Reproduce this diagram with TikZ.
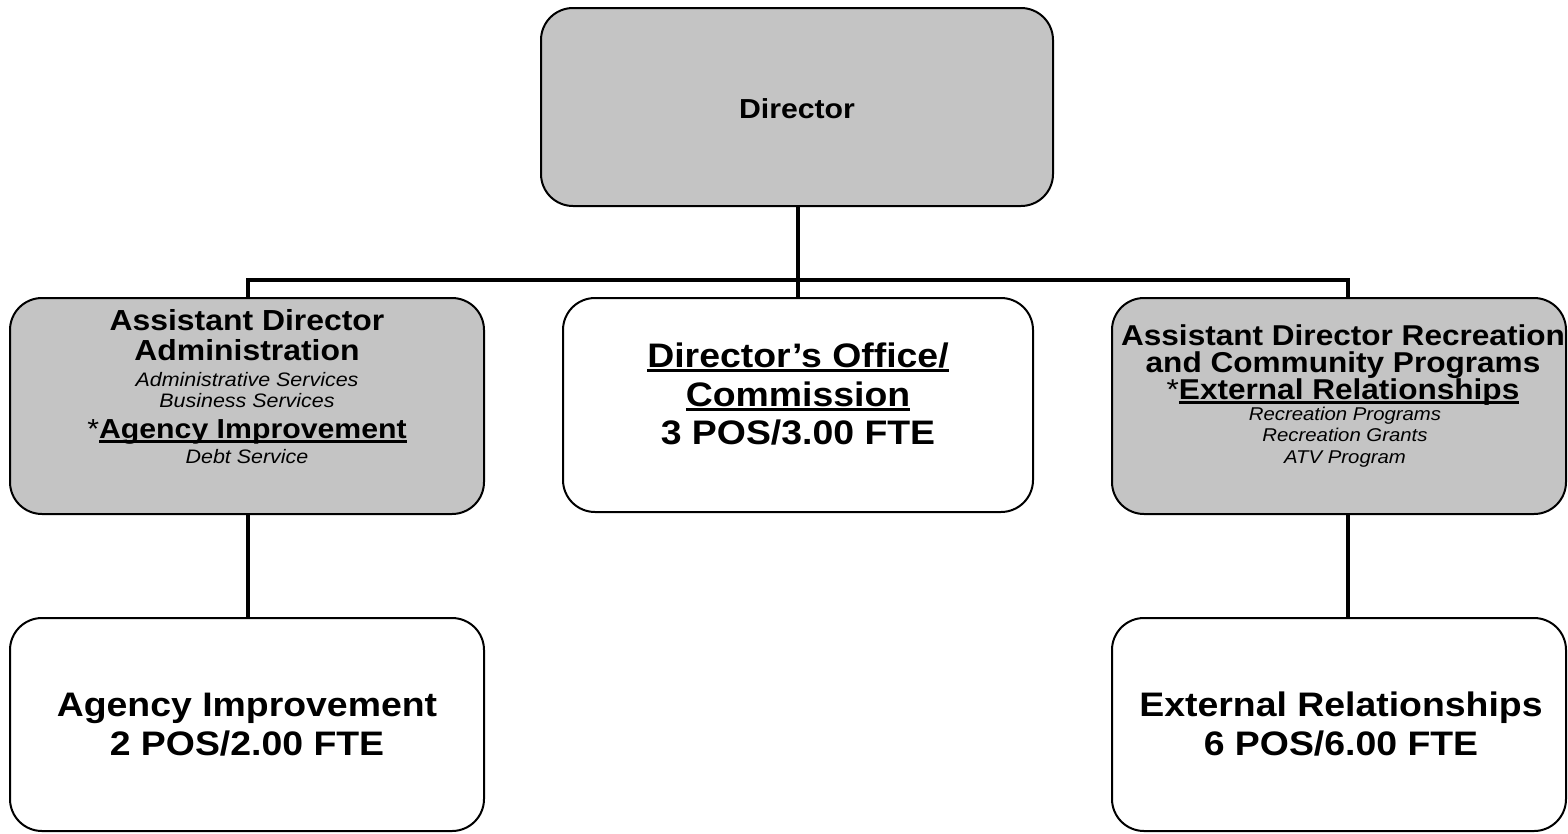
\documentclass[tikz,border=0pt]{standalone}
\usepackage{fontspec}
\setmainfont[FakeStretch=1.1]{Liberation Sans}
\usetikzlibrary{calc}

% thick underline drawn under a piece of text
\newsavebox\ulbox
\newcommand\ulbar[1]{\sbox\ulbox{#1}\rlap{\rule[-5pt]{\wd\ulbox}{2.6pt}}\usebox\ulbox}

\tikzset{
  unitbox/.style={draw=black, line width=2pt, rounded corners=32pt, inner sep=0pt},
  shaded/.style={unitbox, fill=black!23},
  link/.style={line width=4.5pt},
  head/.style={anchor=base, inner sep=0pt, font=\bfseries\fontsize{29}{31}\selectfont},
  headsm/.style={anchor=base, inner sep=0pt, font=\bfseries\fontsize{28.7}{30}\selectfont},
  headdir/.style={anchor=base, inner sep=0pt, font=\bfseries\fontsize{27.5}{30}\selectfont},
  duty/.style={anchor=base, inner sep=0pt, font=\itshape\fontsize{19.5}{21}\selectfont},
  dutysm/.style={anchor=base, inner sep=0pt, font=\itshape\fontsize{18.5}{20}\selectfont},
  big/.style={anchor=base, inner sep=0pt, font=\bfseries\fontsize{34}{37}\selectfont},
  bigger/.style={anchor=base, inner sep=0pt, font=\bfseries\fontsize{34}{37}\selectfont},
}

\begin{document}
\begin{tikzpicture}[x=1pt, y=-1pt]
\useasboundingbox (0,0) rectangle (1568,833);

% junction points of the connector bus
\coordinate (busL) at (248,280);
\coordinate (busR) at (1348,280);
\coordinate (busM) at (798,280);

% boxes
\node[shaded, minimum width=512pt, minimum height=198pt] (dir) at (797,107) {};
\node[shaded, minimum width=474pt, minimum height=216pt] (adm) at (247,406) {};
\node[unitbox, minimum width=470pt, minimum height=214pt] (off) at (798,405) {};
\node[shaded, minimum width=454pt, minimum height=216pt] (rec) at (1339,406) {};
\node[unitbox, minimum width=474pt, minimum height=213pt] (agi) at (247,724.5) {};
\node[unitbox, minimum width=454pt, minimum height=213pt] (ext) at (1339,724.5) {};

% connectors
\draw[link] (dir.south -| busM) -- (busM |- off.north);
\draw[link] (busL |- adm.north) -- (busL) -- (busR) -- (busR |- rec.north);
\draw[link] (busL |- adm.south) -- (busL |- agi.north);
\draw[link] (busR |- rec.south) -- (busR |- ext.north);

% director
\node[headdir] (tdir) at (797,118) {Director};

% assistant director, administration
\node[head] (a1) at (247,330) {Assistant Director};
\node[head] (a2) at (247,360) {Administration};
\node[duty] (a3) at (247,386) {Administrative Services};
\node[duty] (a4) at (247,407) {Business Services};
\node[headdir] (a5) at (247,438) {{\mdseries *}\ulbar{Agency Improvement}};
\node[duty] (a6) at (247,463) {Debt Service};

% director's office
\node[big] (o1) at (798,367) {\ulbar{Director’s Office/}};
\node[big] (o2) at (798,406) {\ulbar{Commission}};
\node[big] (o3) at (798,444) {3 POS/3.00 FTE};

% assistant director, recreation
\node[headsm] (r1) at (1343,345) {Assistant Director Recreation};
\node[headsm] (r2) at (1343,372) {and Community Programs};
\node[headsm] (r3) at (1343,399) {{\mdseries *}\ulbar{External Relationships}};
\node[dutysm] (r4) at (1345,420) {Recreation Programs};
\node[dutysm] (r5) at (1345,441) {Recreation Grants};
\node[dutysm] (r6) at (1345,463) {ATV Program};

% units
\node[bigger] (g1) at (247,716) {Agency Improvement};
\node[bigger] (g2) at (247,755) {2 POS/2.00 FTE};
\node[bigger] (e1) at (1341,716) {External Relationships};
\node[bigger] (e2) at (1341,755) {6 POS/6.00 FTE};
\end{tikzpicture}
\end{document}
